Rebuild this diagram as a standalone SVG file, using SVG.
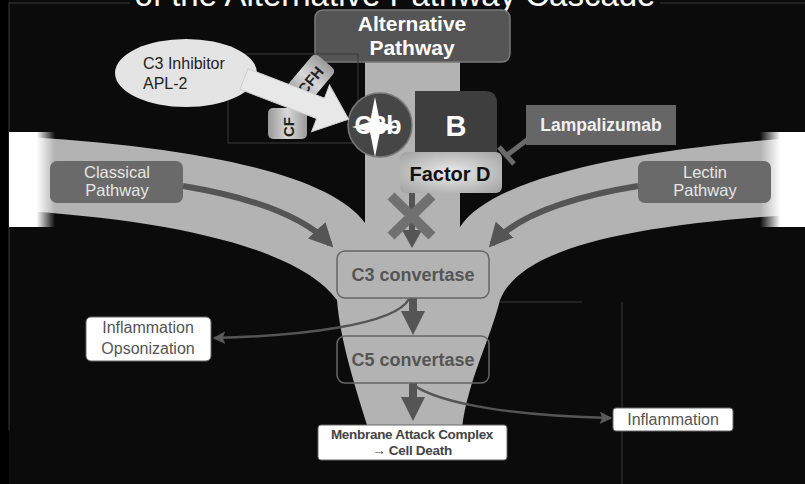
<svg xmlns="http://www.w3.org/2000/svg" width="805" height="484" viewBox="0 0 805 484">
<defs>
<linearGradient id="fadeL" x1="0" y1="0" x2="1" y2="0"><stop offset="0.6" stop-color="#fff" stop-opacity="1"/><stop offset="1" stop-color="#fff" stop-opacity="0"/></linearGradient>
<linearGradient id="fadeR" x1="0" y1="0" x2="1" y2="0"><stop offset="0" stop-color="#fff" stop-opacity="0"/><stop offset="0.45" stop-color="#fff" stop-opacity="1"/></linearGradient>
<radialGradient id="fd" cx="0.5" cy="0.5" r="0.7"><stop offset="0" stop-color="#ececec"/><stop offset="1" stop-color="#a0a0a0"/></radialGradient>
<linearGradient id="cf" x1="0" y1="0" x2="1" y2="0"><stop offset="0" stop-color="#9a9a9a"/><stop offset="0.5" stop-color="#d8d8d8"/><stop offset="1" stop-color="#9a9a9a"/></linearGradient>
<marker id="ah" viewBox="0 0 10 10" refX="8" refY="5" markerWidth="4" markerHeight="4" orient="auto"><path d="M0 0 L10 5 L0 10 Z" fill="#555"/></marker>
<marker id="ahs" viewBox="0 0 10 10" refX="9" refY="5" markerWidth="5" markerHeight="5" orient="auto"><path d="M0 0 L10 5 L0 10 L2 5 Z" fill="#5a5a5a"/></marker>
<style>
.t{font-family:"Liberation Sans",Arial,sans-serif}
.b{font-weight:bold}
.dark{fill:#555;stroke:#7a7a7a;stroke-width:1.5}
.pw{fill:#6a6a6a}
.wb{fill:#fff;stroke:#666;stroke-width:1}
.conv{fill:none;stroke:#666;stroke-width:1.5}
.flow{fill:none;stroke:#555;stroke-width:6}
.thin{fill:none;stroke:#555;stroke-width:2.5}
.faint{fill:none;stroke:#3a3a3a;stroke-width:1}
</style>
</defs>
<rect x="0" y="0" width="805" height="484" fill="#0b0b0b"/>
<rect x="0" y="0" width="9" height="484" fill="#000"/>
<path class="faint" d="M9 3 H130 M660 3 H805 M9 3 V430 M500 302 H582 M622 302 V484"/>
<text class="t" x="395" y="6" font-size="33" fill="#fff" text-anchor="middle">of the Alternative Pathway Cascade</text>

<!-- light band / funnel -->
<path d="M9 136 C 200 146, 330 175, 365 223 L 365 62 L 460 62 L 460 227 C 490 180, 620 150, 805 137 L 805 214 C 620 225, 520 250, 500 300 C 490 340, 468 380, 462 428 L 368 428 C 356 390, 340 340, 337 300 C 300 250, 180 220, 9 210 Z" fill="#b3b3b3"/>
<rect x="9" y="132" width="46" height="95" fill="url(#fadeL)"/>
<rect x="760" y="132" width="45" height="95" fill="url(#fadeR)"/>

<g id="alternative">
<rect x="315" y="10" width="195" height="52" rx="8" class="dark"/>
<text class="t b" x="412" y="31" font-size="21" fill="#fff" text-anchor="middle">Alternative</text>
<text class="t b" x="412" y="55" font-size="21" fill="#fff" text-anchor="middle">Pathway</text>
</g>

<g id="classical">
<rect x="50" y="161" width="133" height="42" rx="7" class="pw"/>
<text class="t" x="117" y="178" font-size="16.5" fill="#e6e6e6" text-anchor="middle">Classical</text>
<text class="t" x="117" y="196" font-size="16.5" fill="#e6e6e6" text-anchor="middle">Pathway</text>
</g>
<g id="lectin">
<rect x="638" y="161" width="133" height="42" rx="7" class="pw"/>
<text class="t" x="705" y="178" font-size="16.5" fill="#e6e6e6" text-anchor="middle">Lectin</text>
<text class="t" x="705" y="196" font-size="16.5" fill="#e6e6e6" text-anchor="middle">Pathway</text>
</g>

<g id="connectors">
<path class="flow" d="M183 186 C 255 198, 305 218, 330 244" marker-end="url(#ah)"/>
<path class="flow" d="M638 186 C 565 198, 515 218, 492 244" marker-end="url(#ah)"/>
<path d="M412 193 V232" stroke="#555" stroke-width="6"/>
<path d="M402 230 L412 248 L422 230 Z" fill="#555"/>
<path d="M413 298 V313" stroke="#555" stroke-width="8"/>
<path d="M401 311 L413 335 L425 311 Z" fill="#555"/>
<path d="M413 383 V399" stroke="#555" stroke-width="8"/>
<path d="M401 397 L413 421 L425 397 Z" fill="#555"/>
<path class="thin" d="M409 299 C 395 325, 300 336, 214 338" marker-end="url(#ahs)"/>
<path class="thin" d="M412 384 C 440 405, 520 416, 611 418" marker-end="url(#ahs)"/>
<path d="M527 140 L507 155" stroke="#6a6a6a" stroke-width="5"/>
<path d="M499 147 L514 164" stroke="#6a6a6a" stroke-width="5"/>
</g>

<g id="cfh">
<g transform="translate(310 80) rotate(-50)">
<rect x="-24" y="-14" width="48" height="28" rx="5" fill="url(#cf)"/>
<text class="t b" x="0" y="6" font-size="15" fill="#222" text-anchor="middle">CFH</text>
</g>
</g>
<g id="cfi">
<rect x="268" y="108" width="39" height="31" rx="5" fill="url(#cf)"/>
<text class="t b" transform="translate(294 137) rotate(-90)" font-size="15" fill="#222">CF</text>
</g>

<rect class="faint" x="228" y="54" width="130" height="89" stroke="#4a4a4a"/>

<g id="b">
<path d="M415 91 H485 Q497 91 497 103 V152 H415 Z" fill="#3e3e3e"/>
<text class="t b" x="456" y="136" font-size="29" fill="#fff" text-anchor="middle">B</text>
</g>
<g id="c3b">
<circle cx="380" cy="125" r="32" fill="#464646" stroke="#777" stroke-width="1.5"/>
<text class="t b" x="378" y="134" font-size="25" fill="#fff" text-anchor="middle">C3b</text>
<path d="M375 97 L380 122 L399 127 L380 132 L375 157 L370 132 L352 127 L370 122 Z" fill="#fff"/>
</g>
<g id="factord">
<rect x="400" y="152" width="102" height="41" rx="6" fill="url(#fd)"/>
<text class="t b" x="450" y="181" font-size="20" fill="#111" text-anchor="middle">Factor D</text>
</g>
<g id="block">
<path d="M391 196 L432 236 M432 196 L391 236" stroke="#707070" stroke-width="10"/>
</g>

<g id="lampalizumab">
<rect x="526" y="105" width="150" height="40" fill="#666"/>
<text class="t b" x="601" y="131" font-size="17.5" fill="#f0f0f0" text-anchor="middle">Lampalizumab</text>
</g>

<g id="inhibitor">
<ellipse cx="186" cy="73" rx="71" ry="34" fill="#e4e4e4"/>
<text class="t" x="143" y="69" font-size="16" fill="#222">C3 Inhibitor</text>
<text class="t" x="143" y="89" font-size="16" fill="#222">APL-2</text>
<g transform="translate(244 79) rotate(21)">
<path d="M0 -11 H82 V-25 L112 0 L82 25 V11 H0 Z" fill="#e8e8e8" stroke="#cfcfcf" stroke-width="1"/>
</g>
</g>

<g id="c3conv">
<rect x="337" y="251" width="152" height="47" rx="8" class="conv"/>
<text class="t b" x="413" y="281" font-size="18" fill="#555" text-anchor="middle">C3 convertase</text>
</g>
<g id="c5conv">
<rect x="337" y="336" width="152" height="47" rx="8" class="conv"/>
<text class="t b" x="413" y="366" font-size="18" fill="#555" text-anchor="middle">C5 convertase</text>
</g>
<g id="mac">
<rect x="318" y="425" width="189" height="35" rx="3" class="wb"/>
<text class="t b" x="412" y="439" font-size="13.5" fill="#444" text-anchor="middle" letter-spacing="-0.3">Menbrane Attack Complex</text>
<text class="t b" x="412" y="455" font-size="13.5" fill="#444" text-anchor="middle" letter-spacing="-0.3">→ Cell Death</text>
</g>
<g id="inflopso">
<rect x="86" y="317" width="125" height="44" rx="5" class="wb"/>
<text class="t" x="148" y="333" font-size="16" fill="#555" text-anchor="middle">Inflammation</text>
<text class="t" x="148" y="354" font-size="16" fill="#555" text-anchor="middle">Opsonization</text>
</g>
<g id="infl">
<rect x="613" y="408" width="120" height="23" rx="3" class="wb"/>
<text class="t" x="673" y="425" font-size="16" fill="#555" text-anchor="middle">Inflammation</text>
</g>
</svg>
